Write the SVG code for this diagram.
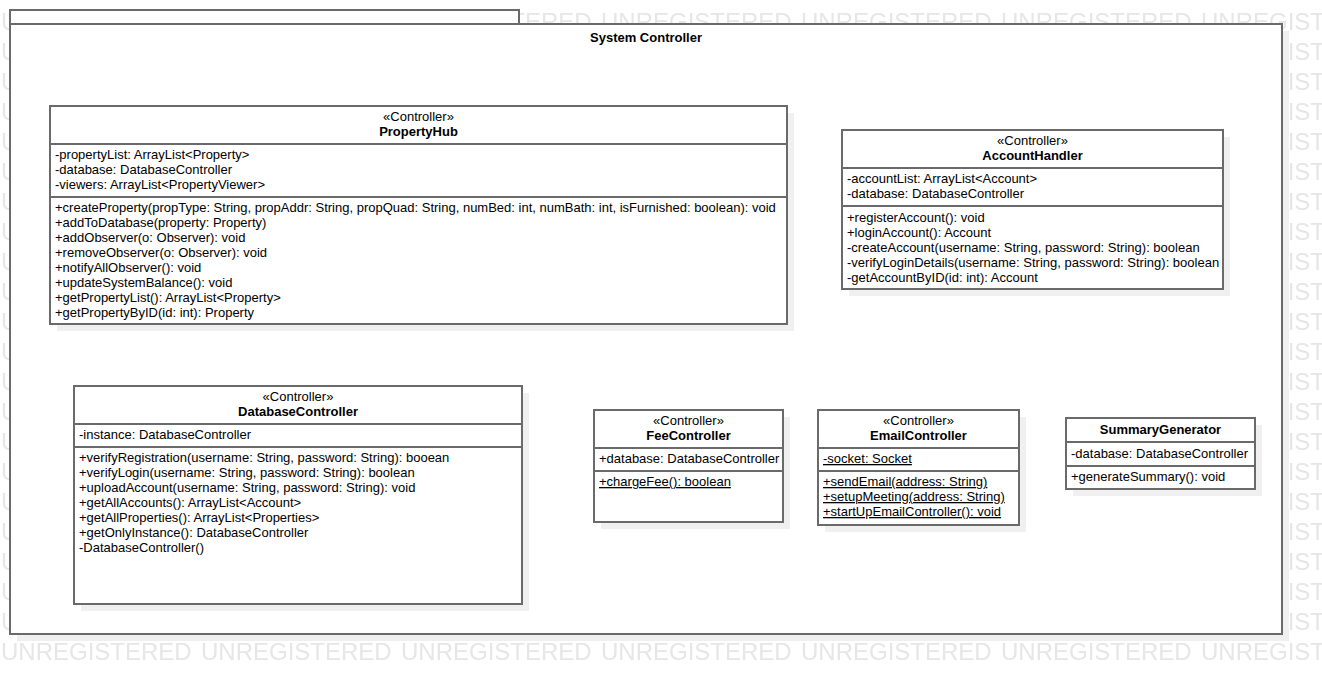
<svg xmlns="http://www.w3.org/2000/svg" width="1322" height="674" viewBox="0 0 1322 674">
<style>
.t{font-family:"Liberation Sans",Arial,sans-serif;font-size:13px;fill:#000}
.b{font-weight:bold}
.c{text-anchor:middle}
.u{text-decoration:underline}
.box{fill:#fff;stroke:#6a6a6a;stroke-width:2}
.ln{stroke:#6a6a6a;stroke-width:2;fill:none}
.sh{fill:#f0f0f0}
.wm{font-family:"Liberation Sans",Arial,sans-serif;font-size:24px;fill:#e6e6e6}
</style>
<defs>
<pattern id="wmark" patternUnits="userSpaceOnUse" x="1" y="0" width="200" height="30">
<text class="wm" x="0" y="30">UNREGISTERED</text>
</pattern>
</defs>
<rect x="0" y="0" width="1322" height="674" fill="#fff"/>
<rect x="0" y="0" width="1322" height="664" fill="url(#wmark)"/>

<g id="package">
<rect class="sh" x="17" y="31" width="1272" height="610"/>
<rect class="box" x="10" y="10" width="509" height="14"/>
<rect class="box" x="10" y="24" width="1272" height="610"/>
<text class="t b c" x="646" y="42">System Controller</text>
</g>

<g id="PropertyHub">
<rect class="sh" x="57" y="113" width="737" height="218"/>
<rect class="box" x="50" y="106" width="737" height="218"/>
<line class="ln" x1="50" y1="144" x2="787" y2="144"/>
<line class="ln" x1="50" y1="197" x2="787" y2="197"/>
<text class="t c" x="418.5" y="121">«Controller»</text>
<text class="t b c" x="418.5" y="136">PropertyHub</text>
<text class="t" x="55" y="159">-propertyList: ArrayList&lt;Property&gt;</text>
<text class="t" x="55" y="174">-database: DatabaseController</text>
<text class="t" x="55" y="189">-viewers: ArrayList&lt;PropertyViewer&gt;</text>
<text class="t" x="55" y="212">+createProperty(propType: String, propAddr: String, propQuad: String, numBed: int, numBath: int, isFurnished: boolean): void</text>
<text class="t" x="55" y="227">+addToDatabase(property: Property)</text>
<text class="t" x="55" y="242">+addObserver(o: Observer): void</text>
<text class="t" x="55" y="257">+removeObserver(o: Observer): void</text>
<text class="t" x="55" y="272">+notifyAllObserver(): void</text>
<text class="t" x="55" y="287">+updateSystemBalance(): void</text>
<text class="t" x="55" y="302">+getPropertyList(): ArrayList&lt;Property&gt;</text>
<text class="t" x="55" y="317">+getPropertyByID(id: int): Property</text>
</g>

<g id="AccountHandler">
<rect class="sh" x="849" y="137" width="381" height="159"/>
<rect class="box" x="842" y="130" width="381" height="159"/>
<line class="ln" x1="842" y1="168" x2="1223" y2="168"/>
<line class="ln" x1="842" y1="206" x2="1223" y2="206"/>
<text class="t c" x="1032.5" y="145">«Controller»</text>
<text class="t b c" x="1032.5" y="160">AccountHandler</text>
<text class="t" x="847" y="183">-accountList: ArrayList&lt;Account&gt;</text>
<text class="t" x="847" y="198">-database: DatabaseController</text>
<text class="t" x="847" y="222">+registerAccount(): void</text>
<text class="t" x="847" y="237">+loginAccount(): Account</text>
<text class="t" x="847" y="252">-createAccount(username: String, password: String): boolean</text>
<text class="t" x="847" y="267">-verifyLoginDetails(username: String, password: String): boolean</text>
<text class="t" x="847" y="282">-getAccountByID(id: int): Account</text>
</g>

<g id="DatabaseController">
<rect class="sh" x="81" y="393" width="448" height="218"/>
<rect class="box" x="74" y="386" width="448" height="218"/>
<line class="ln" x1="74" y1="424" x2="522" y2="424"/>
<line class="ln" x1="74" y1="447" x2="522" y2="447"/>
<text class="t c" x="298" y="401">«Controller»</text>
<text class="t b c" x="298" y="416">DatabaseController</text>
<text class="t" x="79" y="439">-instance: DatabaseController</text>
<text class="t" x="79" y="462">+verifyRegistration(username: String, password: String): booean</text>
<text class="t" x="79" y="477">+verifyLogin(username: String, password: String): boolean</text>
<text class="t" x="79" y="492">+uploadAccount(username: String, password: String): void</text>
<text class="t" x="79" y="507">+getAllAccounts(): ArrayList&lt;Account&gt;</text>
<text class="t" x="79" y="522">+getAllProperties(): ArrayList&lt;Properties&gt;</text>
<text class="t" x="79" y="537">+getOnlyInstance(): DatabaseController</text>
<text class="t" x="79" y="552">-DatabaseController()</text>
</g>

<g id="FeeController">
<rect class="sh" x="601" y="417" width="189" height="112"/>
<rect class="box" x="594" y="410" width="189" height="112"/>
<line class="ln" x1="594" y1="448" x2="783" y2="448"/>
<line class="ln" x1="594" y1="471" x2="783" y2="471"/>
<text class="t c" x="688.5" y="425">«Controller»</text>
<text class="t b c" x="688.5" y="440">FeeController</text>
<text class="t" x="599" y="463">+database: DatabaseController</text>
<text class="t u" x="599" y="486">+chargeFee(): boolean</text>
</g>

<g id="EmailController">
<rect class="sh" x="825" y="417" width="201" height="115"/>
<rect class="box" x="818" y="410" width="201" height="115"/>
<line class="ln" x1="818" y1="448" x2="1019" y2="448"/>
<line class="ln" x1="818" y1="471" x2="1019" y2="471"/>
<text class="t c" x="918.5" y="425">«Controller»</text>
<text class="t b c" x="918.5" y="440">EmailController</text>
<text class="t u" x="823" y="463">-socket: Socket</text>
<text class="t u" x="823" y="486">+sendEmail(address: String)</text>
<text class="t u" x="823" y="501">+setupMeeting(address: String)</text>
<text class="t u" x="823" y="516">+startUpEmailController(): void</text>
</g>

<g id="SummaryGenerator">
<rect class="sh" x="1073" y="425" width="189" height="71"/>
<rect class="box" x="1066" y="418" width="189" height="71"/>
<line class="ln" x1="1066" y1="442" x2="1255" y2="442"/>
<line class="ln" x1="1066" y1="466" x2="1255" y2="466"/>
<text class="t b c" x="1160.5" y="434">SummaryGenerator</text>
<text class="t" x="1071" y="458">-database: DatabaseController</text>
<text class="t" x="1071" y="481">+generateSummary(): void</text>
</g>

<g id="connectors"></g>
</svg>
